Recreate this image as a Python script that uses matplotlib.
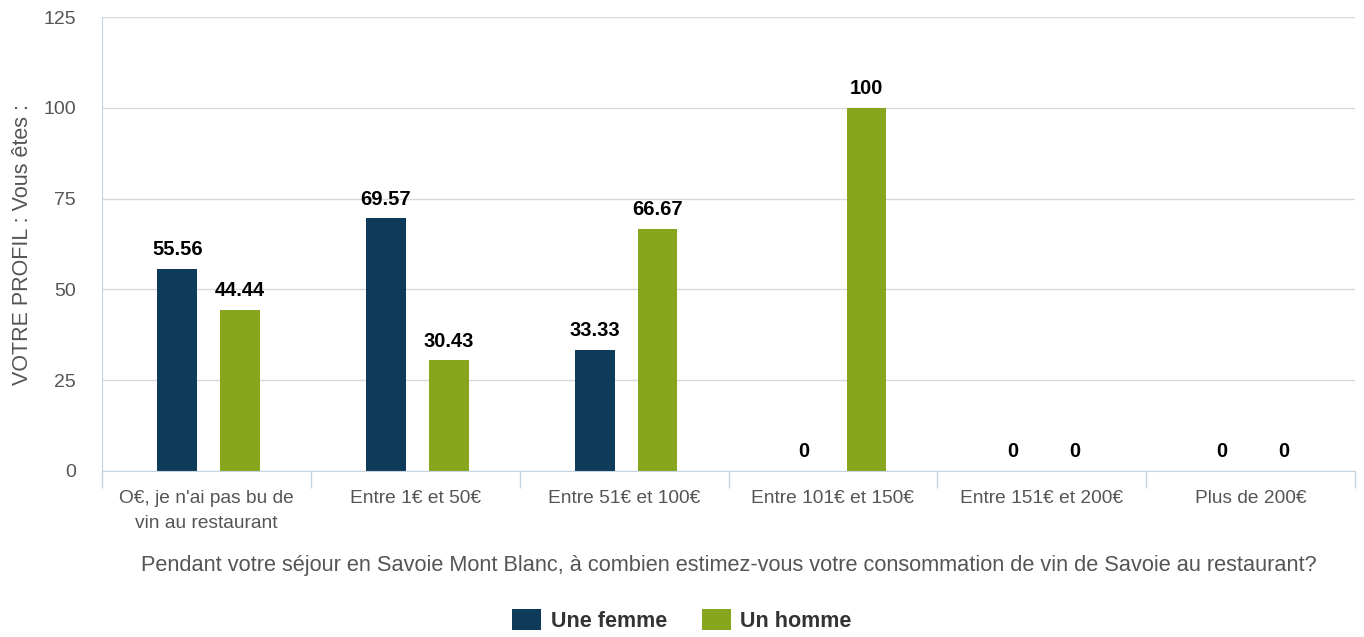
import matplotlib
matplotlib.use("Agg")
import matplotlib.pyplot as plt
import numpy as np

plt.rcParams["font.family"] = ["Liberation Sans", "DejaVu Sans"]

categories = ["O€, je n'ai pas bu de\nvin au restaurant", "Entre 1€ et 50€",
              "Entre 51€ et 100€", "Entre 101€ et 150€",
              "Entre 151€ et 200€", "Plus de 200€"]
femme = [55.56, 69.57, 33.33, 0, 0, 0]
homme = [44.44, 30.43, 66.67, 100, 0, 0]
series_names = ["Une femme", "Un homme"]
yticks = [0, 25, 50, 75, 100, 125]

c_femme = "#0f3b5a"
c_homme = "#87a61e"
grey = "#555555"

fig = plt.figure(figsize=(13.64, 6.37), dpi=100)
ax = fig.add_axes([0.0748, 0.2606, 0.9186, 0.7127])

x = np.arange(len(categories))
w = 0.19
off = 0.15
b1 = ax.bar(x - off + 0.01, femme, w, color=c_femme, label=series_names[0])
b2 = ax.bar(x + off + 0.01, homme, w, color=c_homme, label=series_names[1])

for bars, vals in [(b1, femme), (b2, homme)]:
    for b, v in zip(bars, vals):
        txt = f"{v:g}" if v in (0, 100) else f"{v:.2f}"
        ax.annotate(txt, (b.get_x() + b.get_width() / 2, v),
                    xytext=(0, 7), textcoords="offset points",
                    ha="center", va="bottom", fontsize=14.5,
                    fontweight="bold", color="black")

ax.set_xlim(-0.5, len(categories) - 0.5)
ax.set_ylim(0, 125)
ax.set_yticks(yticks)
ax.set_yticklabels([str(t) for t in yticks], color=grey, fontsize=14)
ax.yaxis.grid(True, color="#d9d9d9", linewidth=1)
ax.set_axisbelow(True)
ax.tick_params(axis="y", length=0, pad=19)

ax.set_xticks(x)
ax.set_xticklabels(categories, color=grey, fontsize=13.8, linespacing=1.55)
ax.set_xticks(np.arange(len(categories) + 1) - 0.5, minor=True)
ax.tick_params(axis="x", which="major", length=0, pad=14)
ax.tick_params(axis="x", which="minor", length=12, color="#c6d4e2", width=1)

for s in ["top", "right"]:
    ax.spines[s].set_visible(False)
ax.spines["left"].set_color("#c6d4e2")
ax.spines["bottom"].set_color("#c6d4e2")

ax.set_xlabel("Pendant votre séjour en Savoie Mont Blanc, à combien estimez-vous "
              "votre consommation de vin de Savoie au restaurant?",
              color=grey, fontsize=15.7, labelpad=17)
ax.set_ylabel("VOTRE PROFIL : Vous êtes :", color=grey, fontsize=15.5,
              labelpad=7)

leg = fig.legend(handles=[b1, b2], loc="lower center",
                 bbox_to_anchor=(0.5, -0.022), ncol=2, frameon=False,
                 prop={"weight": "bold", "size": 15.5}, handlelength=1.35,
                 handleheight=1.1, columnspacing=1.6, handletextpad=0.45)
for t in leg.get_texts():
    t.set_color("#333333")

fig.savefig("out.png", dpi=100)
